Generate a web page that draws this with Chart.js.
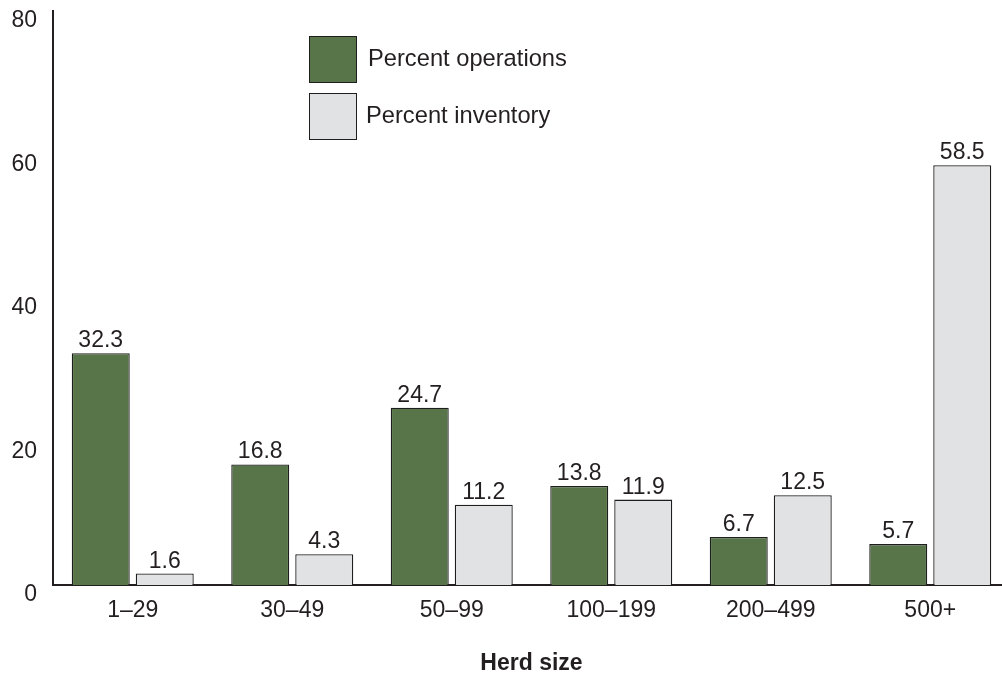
<!DOCTYPE html>
<html>
<head>
<meta charset="utf-8">
<script src="https://cdn.jsdelivr.net/npm/chart.js@4/dist/chart.umd.min.js"></script>
<style>
  html, body { margin: 0; padding: 0; background: #fff; overflow: hidden; }
  #wrap { position: absolute; left: 0; top: 0; width: 1012px; height: 677px; }
</style>
</head>
<body>
<div id="wrap"><canvas id="c"></canvas></div>
<script>
const categories = ['1–29', '30–49', '50–99', '100–199', '200–499', '500+'];
const percentOperations = [32.3, 16.8, 24.7, 13.8, 6.7, 5.7];
const percentInventory = [1.6, 4.3, 11.2, 11.9, 12.5, 58.5];
const seriesNames = ['Percent operations', 'Percent inventory'];
const yTicks = [0, 20, 40, 60, 80];

const GREEN = '#58754a';
const GRAY = '#e1e2e4';
const EDGE = '#1e1e1e';
const TEXT = '#231f20';
const FONT = "'Liberation Sans', Arial, Helvetica, sans-serif";

const valueLabels = {
  id: 'valueLabels',
  afterDatasetsDraw(chart) {
    const ctx = chart.ctx;
    ctx.save();
    ctx.font = '23px ' + FONT;
    ctx.fillStyle = TEXT;
    ctx.textAlign = 'center';
    ctx.textBaseline = 'alphabetic';
    chart.data.datasets.forEach((ds, di) => {
      const meta = chart.getDatasetMeta(di);
      meta.data.forEach((bar, i) => {
        ctx.fillText(ds.data[i].toFixed(1), bar.x, bar.y - 6);
      });
    });
    ctx.restore();
  }
};

const boxLegend = {
  id: 'boxLegend',
  afterDraw(chart) {
    const ctx = chart.ctx;
    ctx.save();
    const rows = [
      { y: 36, color: GREEN, text: seriesNames[0], tx: 368 },
      { y: 93, color: GRAY, text: seriesNames[1], tx: 366 }
    ];
    ctx.font = '23.7px ' + FONT;
    ctx.textBaseline = 'middle';
    rows.forEach(r => {
      ctx.fillStyle = r.color;
      ctx.fillRect(309.5, r.y + 0.5, 47, 46);
      ctx.strokeStyle = EDGE;
      ctx.lineWidth = 1;
      ctx.strokeRect(309.5, r.y + 0.5, 47, 46);
      ctx.fillStyle = TEXT;
      ctx.fillText(r.text, r.tx, r.y + 23);
    });
    ctx.restore();
  }
};

new Chart(document.getElementById('c'), {
  type: 'bar',
  data: {
    labels: categories,
    datasets: [
      { label: seriesNames[0], data: percentOperations, backgroundColor: GREEN, borderColor: EDGE, borderWidth: 1.3, categoryPercentage: 0.8025, barPercentage: 0.906 },
      { label: seriesNames[1], data: percentInventory, backgroundColor: GRAY, borderColor: EDGE, borderWidth: 1.3, categoryPercentage: 0.8025, barPercentage: 0.906 }
    ]
  },
  options: {
    responsive: true,
    maintainAspectRatio: false,
    animation: false,
    devicePixelRatio: 1,
    layout: { padding: { top: 11, right: 2, bottom: 0, left: 0 } },
    plugins: { legend: { display: false }, tooltip: { enabled: false } },
    scales: {
      x: {
        afterFit(scale) { scale.height = 92; scale.paddingLeft = 0; scale.paddingRight = 0; },
        grid: { display: false, drawTicks: false },
        border: { display: true, color: TEXT, width: 2 },
        ticks: { color: TEXT, font: { family: FONT, size: 23 }, padding: 12, maxRotation: 0 },
        title: { display: true, text: 'Herd size', color: TEXT, font: { family: FONT, size: 23, weight: 'bold' }, padding: { top: 10, bottom: 0 } }
      },
      y: {
        min: 0, max: 80,
        afterBuildTicks(scale) { scale.ticks = yTicks.map(v => ({ value: v })); },
        afterFit(scale) { scale.width = 53; scale.paddingTop = 0; scale.paddingBottom = 0; },
        grid: { display: false, drawTicks: false },
        border: { display: true, color: TEXT, width: 2 },
        ticks: { color: TEXT, font: { family: FONT, size: 23 }, padding: 16, labelOffset: 10 }
      }
    }
  },
  plugins: [valueLabels, boxLegend]
});
</script>
</body>
</html>
